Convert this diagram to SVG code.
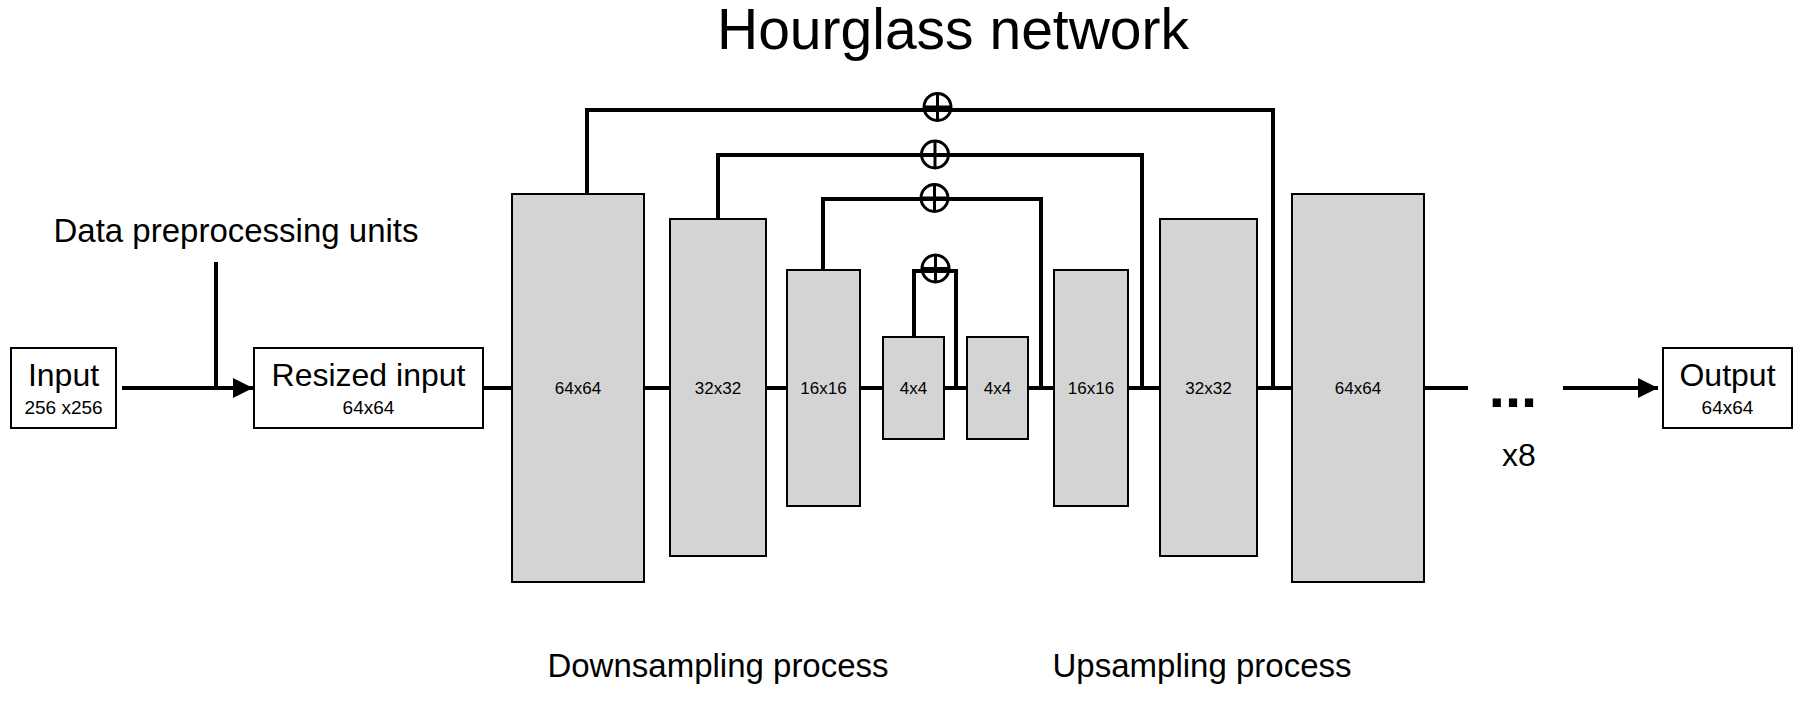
<svg xmlns="http://www.w3.org/2000/svg" width="1800" height="706" viewBox="0 0 1800 706">
<defs>
<style>
text{font-family:"Liberation Sans",Arial,sans-serif;fill:#000;text-anchor:middle}
.io{fill:#fff;stroke:#000;stroke-width:2}
.blk{fill:#d4d4d4;stroke:#000;stroke-width:2}
.big{font-size:32px}
.cap{font-size:33px}
.sub{font-size:19px}
.lbl{font-size:17px;dominant-baseline:central}
.ln{fill:none;stroke:#000;stroke-width:4;stroke-linejoin:miter}
.add{fill:none;stroke:#000;stroke-width:3}
</style>
<marker id="arr" viewBox="0 0 10 10" refX="10" refY="5" markerWidth="5" markerHeight="5" markerUnits="strokeWidth" orient="auto">
<path d="M0,0 L10,5 L0,10 Z" fill="#000"/>
</marker>
</defs>
<rect width="1800" height="706" fill="#fff"/>
<text x="953" y="49" style="font-size:57px">Hourglass network</text>
<text x="236" y="242" class="cap">Data preprocessing units</text>
<text x="718" y="677" class="cap">Downsampling process</text>
<text x="1202" y="677" class="cap">Upsampling process</text>
<text x="1519" y="466" class="big">x8</text>
<text x="1513" y="407" style="font-size:58px;font-weight:bold">...</text>

<g id="connectors">
<path class="ln" d="M122,388 H253" marker-end="url(#arr)"/>
<path class="ln" d="M216,262 V388"/>
<path class="ln" d="M483,388 H512 M644,388 H670 M766,388 H787 M860,388 H883 M944,388 H967 M1028,388 H1054 M1128,388 H1160 M1257,388 H1292 M1424,388 H1468"/>
<path class="ln" d="M1563,388 H1658" marker-end="url(#arr)"/>
<path class="ln" d="M587,195 V110 H1273 V386"/>
<path class="ln" d="M718,220 V155 H1142 V386"/>
<path class="ln" d="M823,270 V199 H1041 V386"/>
<path class="ln" d="M914,337 V271 H956 V390"/>
</g>

<g id="add1"><circle class="add" cx="937.5" cy="107" r="13.5"/><path class="add" d="M937.5,93.5 V120.5 M924,107 H951"/></g>
<g id="add2"><circle class="add" cx="935" cy="154.5" r="13.5"/><path class="add" d="M935,141 V168 M921.5,154.5 H948.5"/></g>
<g id="add3"><circle class="add" cx="934.5" cy="198" r="13.5"/><path class="add" d="M934.5,184.5 V211.5 M921,198 H948"/></g>
<g id="add4"><circle class="add" cx="935.5" cy="268.5" r="13.5"/><path class="add" d="M935.5,255 V282 M922,268.5 H949"/></g>

<g id="input"><rect class="io" x="11" y="348" width="105" height="80"/><text x="63.5" y="386" class="big">Input</text><text x="63.5" y="414" class="sub">256 x256</text></g>
<g id="resized"><rect class="io" x="254" y="348" width="229" height="80"/><text x="368.5" y="386" class="big">Resized input</text><text x="368.5" y="414" class="sub">64x64</text></g>
<g id="output"><rect class="io" x="1663" y="348" width="129" height="80"/><text x="1727.5" y="386" class="big">Output</text><text x="1727.5" y="414" class="sub">64x64</text></g>

<g id="down64"><rect class="blk" x="512" y="194" width="132" height="388"/><text x="578" y="388" class="lbl">64x64</text></g>
<g id="down32"><rect class="blk" x="670" y="219" width="96" height="337"/><text x="718" y="388" class="lbl">32x32</text></g>
<g id="down16"><rect class="blk" x="787" y="270" width="73" height="236"/><text x="823.5" y="388" class="lbl">16x16</text></g>
<g id="down4"><rect class="blk" x="883" y="337" width="61" height="102"/><text x="913.5" y="388" class="lbl">4x4</text></g>
<g id="up4"><rect class="blk" x="967" y="337" width="61" height="102"/><text x="997.5" y="388" class="lbl">4x4</text></g>
<g id="up16"><rect class="blk" x="1054" y="270" width="74" height="236"/><text x="1091" y="388" class="lbl">16x16</text></g>
<g id="up32"><rect class="blk" x="1160" y="219" width="97" height="337"/><text x="1208.5" y="388" class="lbl">32x32</text></g>
<g id="up64"><rect class="blk" x="1292" y="194" width="132" height="388"/><text x="1358" y="388" class="lbl">64x64</text></g>
</svg>
